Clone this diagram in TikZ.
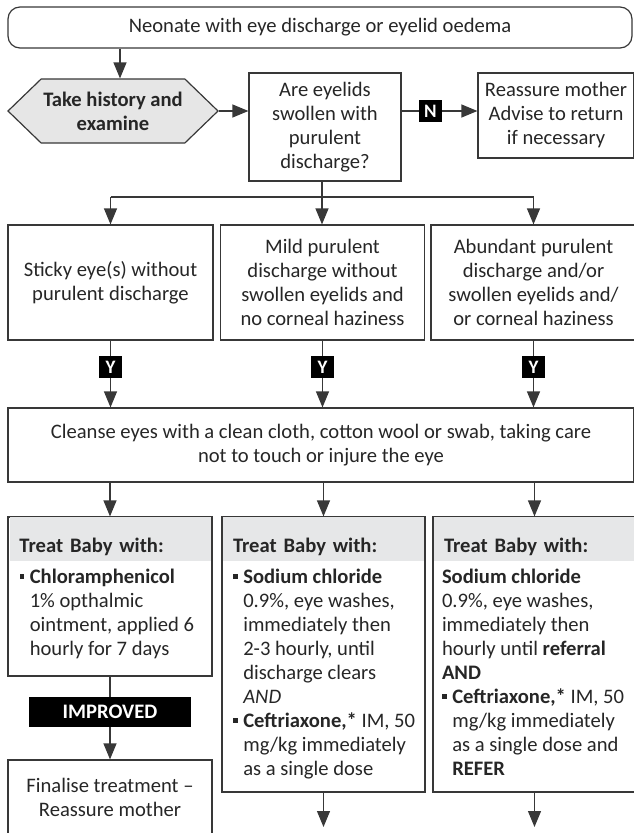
\documentclass[tikz,border=0pt]{standalone}
\usepackage{fontspec}
\setmainfont{Carlito}
\usetikzlibrary{arrows.meta,shapes.symbols}
\definecolor{ink}{HTML}{262626}
\definecolor{linegray}{HTML}{383838}
\definecolor{hexgray}{HTML}{E6E6E6}
\definecolor{headgray}{HTML}{E6E7E8}
\newcommand{\fs}{\fontsize{20.6}{24}\selectfont}
\newcommand{\sqb}{\makebox[0.5em][l]{\rule[0.22em]{0.22em}{0.22em}}}
\newcommand{\ind}{\hspace*{0.5em}}
\tikzset{
  box/.style={draw=linegray, line width=1.2pt, align=center, font=\fs, text=ink, inner sep=2pt},
  flag/.style={fill=black, text=white, font=\fontsize{19}{19}\selectfont\bfseries, minimum width=23pt, minimum height=22pt, inner sep=0pt},
  imp/.style={fill=black, text=white, font=\fs\bfseries, minimum width=162pt, minimum height=30pt, inner sep=0pt},
  head/.style={fill=headgray, font=\fs\bfseries, text=ink, minimum width=201pt, minimum height=44pt, text width=181pt, text height=26pt, text depth=0pt, inner xsep=10pt, align=left},
  body/.style={font=\fs, text=ink, align=left, inner xsep=10pt, inner ysep=7pt},
  ln/.style={draw=linegray, line width=1.2pt},
  arr/.style={ln, -{Triangle[length=16pt,width=13pt]}}
}
\begin{document}
\begin{tikzpicture}[x=1pt,y=-1pt]
\useasboundingbox (0,0) rectangle (633,833);

% top row
\node[box, rounded corners=12pt, minimum width=624pt, minimum height=41pt] (start) at (320,27.5) {Neonate with eye discharge or eyelid oedema};
\node[box, shape=signal, signal to=east and west, signal pointer angle=88, fill=hexgray, minimum width=210pt, minimum height=64pt, font=\fs\bfseries] (history) at (113,111) {Take history and\\examine};
\node[box, minimum width=152pt, minimum height=108pt] (quest) at (325,127) {Are eyelids\\swollen with\\purulent\\discharge?};
\node[box, minimum width=156pt, minimum height=85pt] (reassure) at (556,115.5) {Reassure mother\\Advise to return\\if necessary};

% signs
\node[box, minimum width=205pt, minimum height=115pt] (sticky) at (110.5,282.5) {Sticky eye(s) without\\purulent discharge};
\node[box, minimum width=204pt, minimum height=115pt] (mild) at (322.5,282.5) {Mild purulent\\discharge without\\swollen eyelids and\\no corneal haziness};
\node[box, minimum width=205pt, minimum height=115pt] (abund) at (533.5,282.5) {Abundant purulent\\discharge and/or\\swollen eyelids and/\\or corneal haziness};
\coordinate (split) at (322,197);

\node[box, minimum width=626pt, minimum height=74pt] (cleanse) at (321,445) {Cleanse eyes with a clean cloth, cotton wool or swab, taking care\\not to touch or injure the eye};

% treatment
\node[box, minimum width=204pt, minimum height=159pt] (treat1) at (110,596.5) {};
\node[head, anchor=north] (head1) at ([yshift=-0.6pt]treat1.north) {Treat Baby with:};
\node[body, anchor=north west] (body1) at (head1.south west) {\sqb\textbf{Chloramphenicol}\\\ind 1\% opthalmic\\\ind ointment, applied 6\\\ind hourly for 7 days};

\node[box, minimum width=203pt, minimum height=275pt] (treat2) at (323.5,654.5) {};
\node[head, anchor=north] (head2) at ([yshift=-0.6pt]treat2.north) {Treat Baby with:};
\node[body, anchor=north west] (body2) at (head2.south west) {\sqb\textbf{Sodium chloride}\\\ind 0.9\%, eye washes,\\\ind immediately then\\\ind 2-3 hourly, until\\\ind discharge clears\\\ind\textit{AND}\\\sqb\textbf{Ceftriaxone,*} IM, 50\\\ind mg/kg immediately\\\ind as a single dose};

\node[box, minimum width=203pt, minimum height=275pt] (treat3) at (534.5,654.5) {};
\node[head, anchor=north] (head3) at ([yshift=-0.6pt]treat3.north) {Treat Baby with:};
\node[body, anchor=north west, inner xsep=8pt] (body3) at (head3.south west) {\textbf{Sodium chloride}\\0.9\%, eye washes,\\immediately then\\hourly until \textbf{referral}\\\textbf{AND}\\\sqb\textbf{Ceftriaxone,*} IM, 50\\\ind mg/kg immediately\\\ind as a single dose and\\\ind\textbf{REFER}};

\node[box, minimum width=204pt, minimum height=75pt] (final) at (110,797.5) {Finalise treatment --\\Reassure mother};
\coordinate (out2) at (323.5,827);
\coordinate (out3) at (534.5,827);

% connectors
\draw[arr] ([xshift=7pt]history.north |- start.south) -- ([xshift=7pt]history.north);
\draw[arr] (history.east) -- (history.east -| quest.west);
\draw[arr] (history.east -| quest.east) -- node[flag, pos=0.38] {N} (history.east -| reassure.west);
\draw[arr] (quest.south -| split) -- (split |- mild.north);
\draw[ln] (sticky.north |- split) -- (abund.north |- split);
\draw[arr] (sticky.north |- split) -- (sticky.north);
\draw[arr] (abund.north |- split) -- (abund.north);
\foreach \s in {sticky,mild,abund}
  \draw[arr] (\s.south) -- node[flag, pos=0.4] {Y} (\s.south |- cleanse.north);
\foreach \t in {treat1,treat2,treat3}
  \draw[arr] (cleanse.south -| \t.north) -- (\t.north);
\draw[arr] (treat1.south) -- node[imp, pos=0.43] {IMPROVED} (final.north);
\draw[arr] (treat2.south) -- (out2);
\draw[arr] (treat3.south) -- (out3);
\end{tikzpicture}
\end{document}
